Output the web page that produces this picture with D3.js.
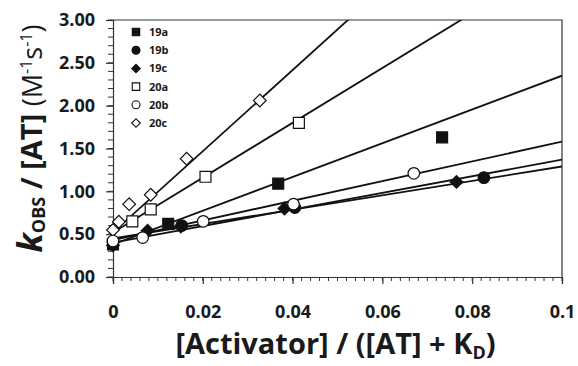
<!DOCTYPE html>
<html>
<head>
<meta charset="utf-8">
<script src="https://cdn.jsdelivr.net/npm/d3@7"></script>
<style>
    body { margin: 0; background: #fff; }
    text { font-family: "Open Sans", sans-serif; fill: #1a1a1a; }
    .tick-label { font-size: 18px; font-weight: bold; }
    .axis-title { font-size: 29px; font-weight: bold; }
    .legend-label { font-size: 11px; font-weight: bold; }
</style>
</head>
<body>
<div id="chart"></div>
<script>
// series
const seriesNames = ["19a", "19b", "19c", "20a", "20b", "20c"];
const seriesShapes = ["square", "circle", "diamond", "square", "circle", "diamond"];
const seriesFilled = [true, true, true, false, false, false];

const x19a = [0, 0.0123, 0.0368, 0.0733];
const y19a = [0.38, 0.62, 1.09, 1.63];
const x19b = [0, 0.0153, 0.0405, 0.0826];
const y19b = [0.41, 0.60, 0.81, 1.16];
const x19c = [0, 0.0077, 0.0151, 0.0382, 0.0765];
const y19c = [0.37, 0.54, 0.59, 0.80, 1.11];
const x20a = [0.0043, 0.0084, 0.0206, 0.0414];
const y20a = [0.65, 0.79, 1.17, 1.80];
const x20b = [0, 0.0066, 0.0201, 0.0402, 0.067];
const y20b = [0.42, 0.46, 0.65, 0.85, 1.21];
const x20c = [0, 0.0013, 0.0036, 0.0084, 0.0164, 0.0327];
const y20c = [0.55, 0.645, 0.85, 0.96, 1.38, 2.06];

// linear fits (intercept, slope) for each series
const fitIntercepts = [0.38, 0.45, 0.40, 0.52, 0.43, 0.52];
const fitSlopes = [19.7, 8.4, 9.7, 32, 11.5, 47.4];

const xTicks = [0, 0.02, 0.04, 0.06, 0.08, 0.1];
const xTickLabels = ["0", "0.02", "0.04", "0.06", "0.08", "0.1"];
const yTicks = [0, 0.5, 1, 1.5, 2, 2.5, 3];
const yTickLabels = ["0.00", "0.50", "1.00", "1.50", "2.00", "2.50", "3.00"];

const xsAll = [x19a, x19b, x19c, x20a, x20b, x20c];
const ysAll = [y19a, y19b, y19c, y20a, y20b, y20c];

const W = 578, H = 366;
const margin = { top: 20, right: 16, bottom: 89, left: 113 };
const width = W - margin.left - margin.right;
const height = H - margin.top - margin.bottom;

const svg = d3.select("#chart").append("svg")
    .attr("width", W)
    .attr("height", H);

const g = svg.append("g")
    .attr("transform", `translate(${margin.left},${margin.top})`);

const x = d3.scaleLinear().domain([0, 0.1]).range([0, width]);
const y = d3.scaleLinear().domain([0, 3]).range([height, 0]);

g.append("clipPath").attr("id", "plot-clip")
    .append("rect").attr("width", width).attr("height", height);

// minor ticks
const xMinor = d3.range(0, 0.1001, 0.002);
const yMinor = d3.range(0, 3.001, 0.1);

g.append("g")
    .attr("transform", `translate(0,${height})`)
    .selectAll("line").data(xMinor).enter().append("line")
    .attr("x1", d => x(d)).attr("x2", d => x(d))
    .attr("y1", 0).attr("y2", 4)
    .attr("stroke", "#333").attr("stroke-width", 1);

g.append("g")
    .selectAll("line").data(yMinor).enter().append("line")
    .attr("x1", -5).attr("x2", 0)
    .attr("y1", d => y(d)).attr("y2", d => y(d))
    .attr("stroke", "#333").attr("stroke-width", 1);

// major axes
const xAxis = g.append("g")
    .attr("transform", `translate(0,${height})`)
    .call(d3.axisBottom(x).tickValues(xTicks).tickSize(7).tickPadding(21)
        .tickFormat((d, i) => xTickLabels[i]));

const yAxis = g.append("g")
    .call(d3.axisLeft(y).tickValues(yTicks).tickSize(7).tickPadding(11)
        .tickFormat((d, i) => yTickLabels[i]));

[xAxis, yAxis].forEach(a => {
    a.attr("font-family", null).attr("font-size", null);
    a.select(".domain").attr("stroke", "#333").attr("stroke-width", 1.2);
    a.selectAll(".tick line").attr("stroke", "#333").attr("stroke-width", 1.2);
    a.selectAll(".tick text").attr("class", "tick-label");
});

// frame top and right
g.append("path")
    .attr("d", `M0,0H${width}V${height}`)
    .attr("fill", "none").attr("stroke", "#333").attr("stroke-width", 1.2);

// fit lines
const lines = g.append("g").attr("clip-path", "url(#plot-clip)");
seriesNames.forEach((name, i) => {
    const ends = [0, 0.1].map(v => [v, fitIntercepts[i] + fitSlopes[i] * v]);
    lines.append("path")
        .datum(ends)
        .attr("fill", "none")
        .attr("stroke", "#111")
        .attr("stroke-width", 1.8)
        .attr("d", d3.line().x(d => x(d[0])).y(d => y(d[1])));
});

function symbolPath(shape, big) {
    if (shape === "circle") return d3.symbol(d3.symbolCircle, big ? 105 : 50)();
    if (shape === "square") return d3.symbol(d3.symbolSquare, big ? 120 : 56)();
    return d3.symbol(d3.symbolSquare, big ? 80 : 36)();
}

// markers
const markOrder = [0, 1, 2, 3, 5, 4];
markOrder.forEach(i => {
    const pts = xsAll[i].map((v, k) => [v, ysAll[i][k]]);
    g.append("g").selectAll("path").data(pts).enter().append("path")
        .attr("d", symbolPath(seriesShapes[i], true))
        .attr("transform", d => `translate(${x(d[0])},${y(d[1])})` +
            (seriesShapes[i] === "diamond" ? " rotate(45)" : ""))
        .attr("fill", seriesFilled[i] ? "#111" : "#fff")
        .attr("stroke", "#111")
        .attr("stroke-width", 1.2);
});

// legend
const legend = g.append("g").attr("transform", "translate(23,12)");
seriesNames.forEach((name, i) => {
    const row = legend.append("g").attr("transform", `translate(0,${i * 18.2})`);
    row.append("path")
        .attr("d", symbolPath(seriesShapes[i], false))
        .attr("transform", seriesShapes[i] === "diamond" ? "rotate(45)" : null)
        .attr("fill", seriesFilled[i] ? "#111" : "#fff")
        .attr("stroke", "#111")
        .attr("stroke-width", 1.1);
    row.append("text")
        .attr("class", "legend-label")
        .attr("x", 13)
        .attr("dy", "0.36em")
        .text(name);
});

// x axis title
const xt = svg.append("text")
    .attr("class", "axis-title")
    .attr("x", margin.left + width / 2 - 2)
    .attr("y", 354)
    .attr("text-anchor", "middle");
xt.append("tspan").text("[Activator] / ([AT] + K");
xt.append("tspan").attr("font-size", "18px").attr("dy", 5).text("D");
xt.append("tspan").attr("dy", -5).text(")");

// y axis title
const yt = svg.append("text")
    .attr("class", "axis-title")
    .attr("transform", `translate(42,${margin.top + height / 2 - 10}) rotate(-90)`)
    .attr("text-anchor", "middle");
yt.append("tspan").attr("font-style", "italic").attr("font-size", "34px").text("k");
yt.append("tspan").attr("font-size", "18px").attr("dy", 3).text("OBS");
yt.append("tspan").attr("dy", -3).text(" / [AT] ");
yt.append("tspan").attr("font-weight", "normal").attr("font-size", "27px").text("(M");
yt.append("tspan").attr("font-weight", "normal").attr("font-size", "16px").attr("dy", -10).text("-1");
yt.append("tspan").attr("font-weight", "normal").attr("font-size", "27px").attr("dy", 10).text("s");
yt.append("tspan").attr("font-weight", "normal").attr("font-size", "16px").attr("dy", -10).text("-1");
yt.append("tspan").attr("font-weight", "normal").attr("font-size", "27px").attr("dy", 10).text(")");
</script>
</body>
</html>
